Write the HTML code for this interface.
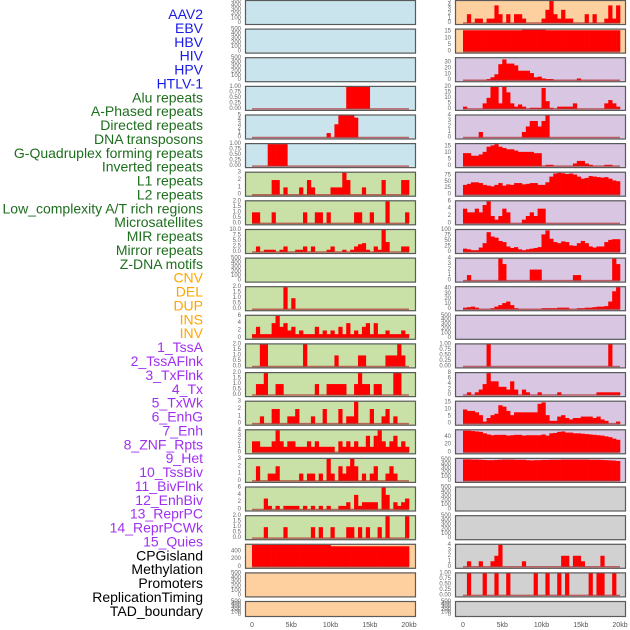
<!DOCTYPE html>
<html><head><meta charset="utf-8"><style>
html,body{margin:0;padding:0;background:#fff;}
svg{display:block;font-family:"Liberation Sans",sans-serif;}
</style></head><body>
<svg id="chart" width="630" height="630" viewBox="0 0 630 630" xmlns="http://www.w3.org/2000/svg"></svg>
<script>
const labelNames = ["AAV2","EBV","HBV","HIV","HPV","HTLV-1","Alu repeats","A-Phased repeats","Directed repeats","DNA transposons","G-Quadruplex forming repeats","Inverted repeats","L1 repeats","L2 repeats","Low_complexity A/T rich regions","Microsatellites","MIR repeats","Mirror repeats","Z-DNA motifs","CNV","DEL","DUP","INS","INV","1_TssA","2_TssAFlnk","3_TxFlnk","4_Tx","5_TxWk","6_EnhG","7_Enh","8_ZNF_Rpts","9_Het","10_TssBiv","11_BivFlnk","12_EnhBiv","13_ReprPC","14_ReprPCWk","15_Quies","CPGisland","Methylation","Promoters","ReplicationTiming","TAD_boundary"];
const labelGroups = [0,0,0,0,0,0,1,1,1,1,1,1,1,1,1,1,1,1,1,2,2,2,2,2,3,3,3,3,3,3,3,3,3,3,3,3,3,3,3,4,4,4,4,4];
const groupText = ["#1a1ae6","#1e6e1e","#ffa500","#a030f0","#000000"];
const groupBg = ["#c9e4ec","#c9e1a6","#fecf9f","#d8c6e2","#d1d1d1"];
const xTickLabels = ["0","5kb","10kb","15kb","20kb"];
const xTickValues = [0,5,10,15,20];
const genomeKb = 20;
const binKb = 0.5;
const panelMax = [500,500,500,1,5,1,3,2,10,500,2,6,2,2,3,4,3,6,2,580,500,500,
                  5,16.5,37,20,4,17,85,6,100,4,43,500,1,8,15.5,58,530,500,500,4,1,500];
const panelTicks = [
 [0,100,200,300,400,500],[0,100,200,300,400,500],[0,100,200,300,400,500],[0,0.25,0.5,0.75,1],[0,1,2,3,4,5],[0,0.25,0.5,0.75,1],
 [0,1,2,3],[0,0.5,1,1.5,2],[0,2.5,5,7.5,10],[0,100,200,300,400,500],[0,0.5,1,1.5,2],[0,2,4,6],[0,0.5,1,1.5,2],[0,0.5,1,1.5,2],
 [0,1,2,3],[0,1,2,3,4],[0,1,2,3],[0,2,4,6],[0,0.5,1,1.5,2],[0,200,400],[0,100,200,300,400,500],[0,100,200,300,400,500],
 [0,1,2,3,4,5],[0,5,10,15],[0,10,20,30],[0,5,10,15,20],[0,1,2,3,4],[0,5,10,15],[0,25,50,75],[0,2,4,6],[0,25,50,75,100],[0,1,2,3,4],
 [0,10,20,30,40],[0,100,200,300,400,500],[0,0.25,0.5,0.75,1],[0,2,4,6,8],[0,5,10,15],[0,20,40],[0,100,200,300,400,500],
 [0,100,200,300,400,500],[0,100,200,300,400,500],[0,1,2,3,4],[0,0.25,0.5,0.75,1],[0,100,200,300,400,500]];
const panelValues = [
 {},{},{},
 {24:1,25:1,26:1,27:1,28:1,29:1},
 {19:1,21:3,22:5,23:5,24:5,25:5,26:4.5},
 {4:1,5:1,6:1,7:1,8:1},
 {5:2,6:2,8:1,12:1,14:2,15:1,20:1,21:1,22:1,23:3,24:2,28:1,33:2,38:2,39:2},
 {0:1,1:1,5:1,13:1,16:1,17:1,19:1,26:1,27:1,30:1,34:2,39:1},
 {1:2.5,3:1,4:1,5:1,7:1,8:2.5,11:1,12:1,13:2.5,15:2.5,19:1,20:2.5,23:1,25:1,26:2.5,27:3.5,28:4,29:1,31:2.5,32:1,33:10,34:4.5,38:2.5,39:2.5},
 {},
 {8:2,10:1},
 [1,3,1,1,1,4,6,3,4,2,3,1,2,1,1,1,3,1,2,1,2,1,3,1,4,1,2,1,3,4,1,4,1,1,2,1,1,1,2,1],
 {2:2,3:2,13:2,21:1,27:1,28:1,34:1,35:1,36:1,37:2,38:1},
 {1:1,2:1,3:2,6:1,7:1,16:1,19:1,20:1,21:1,22:1,23:1,26:1,27:2,28:1,29:1,31:1,32:1,36:2,37:2},
 {2:1,5:2,6:2,9:1,10:1,11:2,15:1,18:2,22:2,24:1,25:1,26:3,30:2,33:1,34:2,36:1},
 [2,2,1,1,1,2,4,2,1,2,2,1,1,1,2,1,2,1,1,1,1,0,2,1,2,1,2,1,1,3,1,3,4,2,1,2,3,1,2,1],
 {1:2,4:1,5:1,6:2,12:1,14:1,15:1,17:1,19:3,20:1,22:2,23:1,24:2,25:3,26:2,28:1,30:1,31:2,34:1,35:2,36:1},
 {3:3,4:1,6:1,8:1,9:1,10:1,11:1,13:1,15:1,17:1,19:1,22:1,23:1,24:2,26:4,27:1,28:2,29:2,30:2,31:2,33:6,34:4,36:2,37:1,38:2,39:3},
 {3:1,8:1,15:1,17:1,20:1,24:1,25:1,27:1,29:1,32:1,34:2,39:2},
 [575,575,575,575,575,575,575,575,575,575,575,575,575,575,575,575,575,575,575,575,540,540,540,540,540,540,540,540,540,540,540,540,540,540,540,540,540,540,540,540],
 {},{},
 [0,2,0,1,1,0,1,1,4,2,0,2,0,2,2,1,0,0,0,0,1,3,5,2,1,3,1,1,0,0,0,2,0,2,0,0,1,4,1,4],
 [16,16,16,16,16,16,16,16,16,16,16,16,16,16,16,16.4,16.4,16.4,16.4,16.4,16.4,16,16,16,16,16,16,16,16,16,16,16,16,16,16,16,16,16,16,16],
 {6:2,7:5,8:10,9:27,10:35,11:28,12:28,13:25,14:16,15:16,16:16,17:12,18:5,19:6,20:3,21:2,22:2,29:3},
 {0:2,5:5,6:10,7:20,8:20,9:5,10:20,11:15,12:5,13:2,14:4,15:2,17:1,18:1,19:1,20:19,21:7,22:1,24:2,25:2,26:2,27:2,28:5,36:5,37:8,38:5,39:2},
 {4:1,15:1,16:2,17:3,18:3,19:2,20:3,21:4},
 [10,10,8,8,9,11,15,16,17,15,14,13,13,12,11,11,11,11,10,10,0,1,1,0,0,0,0,0,2,4,4,2,1,0,0,0,1,1,0,0],
 [38,42,48,48,45,38,35,32,38,45,35,40,38,45,45,40,42,45,45,38,38,48,70,82,85,83,80,82,78,70,62,65,72,70,68,66,68,62,55,52],
 {0:4,1:3,2:3,3:4,4:3,5:5,6:6,7:2,8:1,9:2,10:4,11:3,15:1,16:2,17:3,18:2,19:4,20:4},
 [15,12,8,8,20,40,90,70,65,50,45,25,18,22,12,8,12,15,18,22,80,98,60,45,40,48,45,30,28,40,50,40,25,20,25,25,45,55,58,58],
 {1:1,9:4,10:3,17:2,18:2,19:2,28:1,29:1,38:4,39:3},
 [3,4,5,3,0,0,0,2,5,8,12,15,8,2,0,0,0,0,0,0,2,2,2,2,3,3,3,0,0,2,2,3,3,4,5,5,6,15,35,43],
 {},
 {6:1,37:1},
 {1:1,3:1,4:2,5:4,6:8,7:5,8:5,9:3,10:3,11:2,12:5,13:2,15:2,16:1,19:1,24:1,34:1,35:1,36:1,37:1,38:1,39:1},
 [10,9,9,8,6,1.5,4,6,7,13,12,9,6,8,8,8,8,8,8,14,15,6,2,2,5,6,4,3,4,4,5,5,5,4,5,3,2,0,0,1.5],
 [57,57,56,55,54,50,47,45,46,46,46,44,45,46,46,44,45,45,45,45,47,44,50,51,54,55,52,52,50,50,49,48,47,46,45,44,42,40,36,33],
 [520,520,515,515,510,505,500,500,505,510,515,515,515,510,510,510,500,495,500,500,505,505,510,510,510,515,515,515,515,515,515,515,510,510,510,505,500,495,490,480],
 {},{},
 {1:1,4:1,7:1,8:2,9:4,15:1,25:2,26:2,28:2,29:2,30:1,35:2},
 {1:1,5:1,8:1,11:1,18:1,21:1,24:1,26:1,32:1,34:1,35:1,38:1},
 {}
];

const NS = "http://www.w3.org/2000/svg";
const svg = document.getElementById("chart");
function mk(tag, attrs, parent){ const e=document.createElementNS(NS,tag); for(const k in attrs) e.setAttribute(k,attrs[k]); (parent||svg).appendChild(e); return e; }

const colFrameX = [245,455], colFrameW = 171, colX0 = [252,463], dataW = 157;
function xScale(kb,col){ return colX0[col] + kb/genomeKb*dataW; }
function rowTop(r){ return r*28.62; }
function rowH(r){ return r===21 ? 16 : 25; }
function yScale(v,p,r){ const top=rowTop(r), h=rowH(r); const bottom=top+h-2; return bottom - v/panelMax[p]*(h-3); }

// labels
labelNames.forEach((name,i)=>{
  const t = mk("text",{x:203,y:(14+i*13.88).toFixed(1),"text-anchor":"end","dominant-baseline":"central","font-size":"14",fill:groupText[labelGroups[i]]});
  t.textContent = name;
  
  
});

for(let p=0;p<panelValues.length;p++){
  const col = p<22 ? 0 : 1, r = p%22;
  const top=rowTop(r), h=rowH(r);
  const g = mk("g",{});
  
  
  mk("rect",{x:colFrameX[col],y:top.toFixed(1),width:colFrameW,height:h,fill:groupBg[labelGroups[p]]},g);
  const vals = panelValues[p];
  let any=false;
  for(const k in vals){
    const v = vals[k]; if(!v) continue; any=true;
    const b = +k;
    const x1 = xScale(b*binKb,col), x2 = xScale((b+1)*binKb,col);
    const y = yScale(v,p,r), y0 = yScale(0,p,r);
    const bar = mk("rect",{x:x1.toFixed(2),y:y.toFixed(2),width:(x2-x1+0.3).toFixed(2),height:Math.max(0,y0-y).toFixed(2),fill:"#ff0000"},g);
    
    
  }
  if(any){
    const y0=yScale(0,p,r);
    mk("line",{x1:xScale(0,col),x2:xScale(genomeKb,col),y1:y0,y2:y0,stroke:"#b03030","stroke-opacity":"0.7","stroke-width":"1.5"},g);
  }
  mk("rect",{x:colFrameX[col]+0.5,y:(top+0.5).toFixed(1),width:colFrameW-1,height:h-1,fill:"none",stroke:"#5a5a5a","stroke-width":"1.2"},g);
  panelTicks[p].forEach(t=>{
    const lab = mk("text",{x:colFrameX[col]-4,y:yScale(t,p,r).toFixed(1),"text-anchor":"end","dominant-baseline":"central","font-size":"6",fill:"#666"},g);
    lab.textContent = (panelMax[p]===1) ? t.toFixed(2) : ((panelMax[p]===2) ? t.toFixed(1) : (panelMax[p]===10 ? (t%1?t.toFixed(1):t.toFixed(1)) : String(t)));
    
    
  });
}

[0,1].forEach(col=>{
  xTickValues.forEach((v,i)=>{
    const t = mk("text",{x:xScale(v,col).toFixed(1),y:627,"text-anchor":"middle","font-size":"7",fill:"#555"});
    t.textContent = xTickLabels[i];
    
    
  });
});
</script>
</body></html>
